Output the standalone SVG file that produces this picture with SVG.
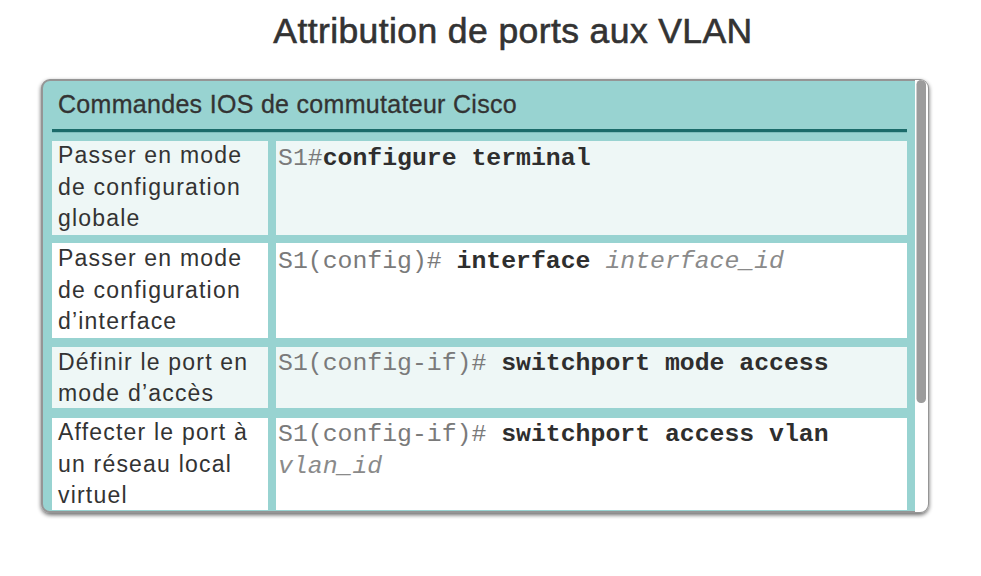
<svg xmlns="http://www.w3.org/2000/svg" width="981" height="576" viewBox="0 0 981 576">
<style>
.title{font-family:"Liberation Sans",Arial,sans-serif;font-size:35.5px;fill:#333333;stroke:#333333;stroke-width:0.6px;letter-spacing:0.4px}
.hdr{font-family:"Liberation Sans",Arial,sans-serif;font-size:25px;fill:#333333;stroke:#333333;stroke-width:0.3px;letter-spacing:0.3px}
.lbl{font-family:"Liberation Sans",Arial,sans-serif;font-size:23px;fill:#333333;letter-spacing:1.2px}
.mono{font-family:"Liberation Mono","Courier New",monospace;font-size:24.8px;fill:#7a7a7a}
.b{font-weight:bold;fill:#2e2e2e}
.i{font-style:italic;fill:#8a8a8a}
.lt{fill:#eef7f6}
.wh{fill:#ffffff}
</style>
<defs>
<filter id="sh" x="-5%" y="-5%" width="110%" height="110%">
<feGaussianBlur in="SourceAlpha" stdDeviation="2"/>
<feOffset dx="0" dy="1.5" result="o"/>
<feComponentTransfer><feFuncA type="linear" slope="0.6"/></feComponentTransfer>
<feMerge><feMergeNode/><feMergeNode in="SourceGraphic"/></feMerge>
</filter>
<clipPath id="pc"><rect x="42" y="80" width="886" height="432" rx="8"/></clipPath>
</defs>
<rect width="981" height="576" fill="#ffffff"/>
<text class="title" x="513" y="43" text-anchor="middle">Attribution de ports aux VLAN</text>
<g id="panel">
<rect x="42" y="80" width="886" height="432" rx="8" fill="#98d3d1" stroke="#959595" stroke-width="2" filter="url(#sh)"/>
<g clip-path="url(#pc)">
<rect x="915" y="80" width="13" height="432" fill="#ffffff"/>
<rect x="916.5" y="80" width="9.5" height="323" rx="4.5" fill="#9c9c9c"/>
</g>
</g>
<g id="header">
<text class="hdr" x="58" y="112.5">Commandes IOS de commutateur Cisco</text>
<rect x="52" y="129" width="855" height="3.2" fill="#1b6b6a"/>
</g>
<g id="row1">
<rect class="lt" x="52" y="141" width="216" height="94"/>
<rect class="lt" x="276" y="141" width="631" height="94"/>
<text class="lbl" x="58" y="163">Passer en mode</text>
<text class="lbl" x="58" y="194.5">de configuration</text>
<text class="lbl" x="58" y="226">globale</text>
<text class="mono" x="278" y="165">S1#<tspan class="b">configure terminal</tspan></text>
</g>
<g id="row2">
<rect class="wh" x="52" y="243" width="216" height="95"/>
<rect class="wh" x="276" y="243" width="631" height="95"/>
<text class="lbl" x="58" y="266">Passer en mode</text>
<text class="lbl" x="58" y="297.5">de configuration</text>
<text class="lbl" x="58" y="329">d’interface</text>
<text class="mono" x="278" y="268" xml:space="preserve">S1(config)# <tspan class="b">interface</tspan> <tspan class="i">interface_id</tspan></text>
</g>
<g id="row3">
<rect class="lt" x="52" y="347" width="216" height="61"/>
<rect class="lt" x="276" y="347" width="631" height="61"/>
<text class="lbl" x="58" y="370">Définir le port en</text>
<text class="lbl" x="58" y="401">mode d’accès</text>
<text class="mono" x="278" y="370" xml:space="preserve">S1(config-if)# <tspan class="b">switchport mode access</tspan></text>
</g>
<g id="row4">
<rect class="wh" x="52" y="418" width="216" height="92"/>
<rect class="wh" x="276" y="418" width="631" height="92"/>
<text class="lbl" x="58" y="440">Affecter le port à</text>
<text class="lbl" x="58" y="471.5">un réseau local</text>
<text class="lbl" x="58" y="503">virtuel</text>
<text class="mono" x="278" y="441" xml:space="preserve">S1(config-if)# <tspan class="b">switchport access vlan</tspan></text>
<text class="mono i" x="278" y="473">vlan_id</text>
</g>
<g id="connectors"/>
</svg>
